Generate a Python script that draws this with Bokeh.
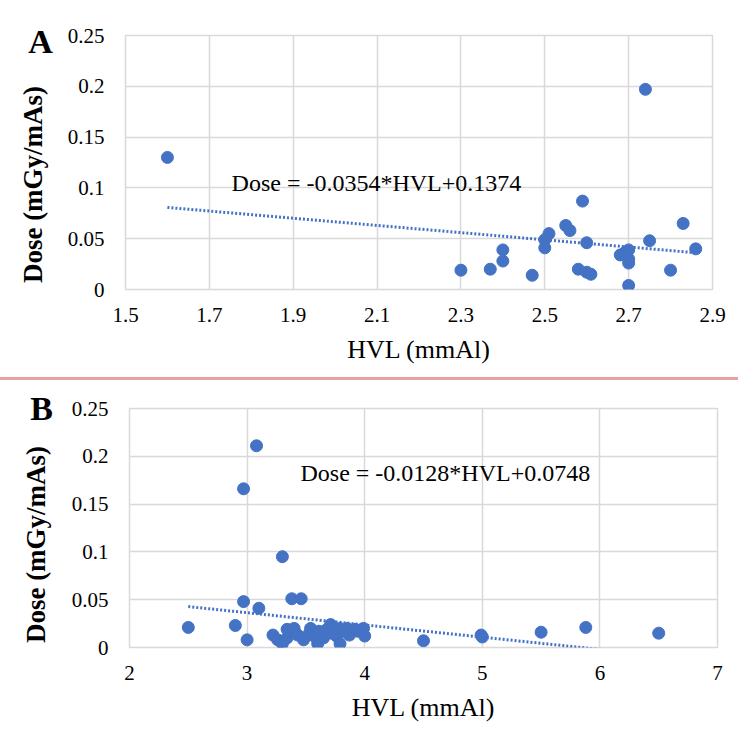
from bokeh.plotting import figure
from bokeh.layouts import column, row
from bokeh.models import Range1d, FixedTicker, NumeralTickFormatter, Label
from bokeh.core.properties import value
from bokeh.embed import file_html
from bokeh.resources import INLINE

# ---------------- data ----------------
hvl_a = [1.60, 2.30, 2.37, 2.40, 2.40, 2.47, 2.50, 2.50, 2.51, 2.55, 2.56, 2.59,
         2.58, 2.60, 2.61, 2.60, 2.68, 2.69, 2.70, 2.70, 2.70, 2.70, 2.74, 2.75,
         2.80, 2.83, 2.86]
dose_a = [0.130, 0.019, 0.020, 0.039, 0.028, 0.014, 0.041, 0.049, 0.055, 0.063, 0.058, 0.087,
          0.020, 0.017, 0.015, 0.046, 0.034, 0.036, 0.039, 0.030, 0.026, 0.004, 0.197, 0.048,
          0.019, 0.065, 0.040]

hvl_b = [2.50, 2.90, 2.97, 2.97, 3.08, 3.10, 3.00, 3.30, 3.38, 3.46, 3.22, 3.26, 3.29, 3.30,
         3.34, 3.34, 3.39, 3.40, 3.43, 3.48, 3.53, 3.54, 3.57, 3.60, 3.61, 3.65, 3.68, 3.71,
         3.72, 3.74, 3.76, 3.79, 3.79, 3.82, 3.85, 3.87, 3.92, 3.94, 3.99, 4.00, 4.50, 5.00,
         4.99, 5.50, 5.88, 6.50]
dose_b = [0.021, 0.023, 0.048, 0.166, 0.211, 0.041, 0.008, 0.095, 0.051, 0.051, 0.013, 0.008,
          0.006, 0.004, 0.010, 0.019, 0.017, 0.020, 0.013, 0.008, 0.015, 0.020, 0.012, 0.004,
          0.017, 0.010, 0.019, 0.024, 0.015, 0.020, 0.012, 0.004, 0.020, 0.017, 0.020, 0.013,
          0.019, 0.017, 0.020, 0.012, 0.007, 0.011, 0.013, 0.016, 0.021, 0.015]

slope_a, intercept_a = -0.0354, 0.1374
slope_b, intercept_b = -0.0128, 0.0748
eq_a = "Dose = -0.0354*HVL+0.1374"
eq_b = "Dose = -0.0128*HVL+0.0748"
y_title = "Dose (mGy/mAs)"
x_title = "HVL (mmAl)"

xticks_a = [1.5, 1.7, 1.9, 2.1, 2.3, 2.5, 2.7, 2.9]
xticks_b = [2, 3, 4, 5, 6, 7]
yticks = [0, 0.05, 0.1, 0.15, 0.2, 0.25]

# ---------------- style ----------------
BLUE = "#4472C4"
GRID = "#d9d9d9"
FONT = "Liberation Serif"
SIDE_W = 56
MAIN_W = 682


def side_panel(height, letter, letter_pos, ylab_pos, styles):
    s = figure(width=SIDE_W, height=height, output_backend="svg", toolbar_location=None,
               x_range=Range1d(0, SIDE_W), y_range=Range1d(0, height),
               min_border=0, outline_line_color=None, styles=styles,
               frame_align=False)
    s.title.visible = False
    s.axis.visible = False
    s.grid.visible = False
    s.text(x=[letter_pos[0]], y=[height - letter_pos[1]], text=[letter], text_font=value(FONT),
           text_font_size="34px", text_font_style="bold", text_color="black",
           text_align="center", text_baseline="middle")
    s.text(x=[ylab_pos[0]], y=[height - ylab_pos[1]], text=[y_title], text_font=value(FONT),
           text_font_size="27px", text_font_style="bold", text_color="black",
           angle=1.5707963, text_align="center", text_baseline="middle")
    return s


def make_panel(xs, ys, slope, intercept, eq, xticks, xfmt, height, mb_left, mb_right,
               mb_top, mb_bottom, eq_pos, styles):
    p = figure(width=MAIN_W, height=height, output_backend="svg", toolbar_location=None,
               x_range=Range1d(xticks[0], xticks[-1]), y_range=Range1d(0, 0.25),
               min_border_left=mb_left, min_border_right=mb_right,
               min_border_top=mb_top, min_border_bottom=mb_bottom,
               outline_line_color=GRID, outline_line_width=1.5, styles=styles,
               frame_align=False)
    p.title.visible = False
    p.xaxis.ticker = FixedTicker(ticks=xticks)
    p.yaxis.ticker = FixedTicker(ticks=yticks)
    p.xaxis.formatter = NumeralTickFormatter(format=xfmt)
    p.yaxis.formatter = NumeralTickFormatter(format="0.[00]")
    for ax in (p.xaxis, p.yaxis):
        ax.axis_line_color = None
        ax.major_tick_line_color = None
        ax.minor_tick_line_color = None
        ax.major_label_text_font = FONT
        ax.major_label_text_font_size = "21px"
        ax.major_label_text_color = "black"
    p.xaxis.major_label_standoff = 12
    p.yaxis.major_label_standoff = 15
    p.xaxis.axis_label = x_title
    p.xaxis.axis_label_text_font = FONT
    p.xaxis.axis_label_text_font_style = "normal"
    p.xaxis.axis_label_text_font_size = "26px"
    p.xaxis.axis_label_text_color = "black"
    p.xaxis.axis_label_standoff = 10
    p.xgrid.grid_line_color = GRID
    p.ygrid.grid_line_color = GRID
    p.xgrid.grid_line_width = 1.5
    p.ygrid.grid_line_width = 1.5

    x0, x1 = min(xs), max(xs)
    p.line([x0, x1], [slope * x0 + intercept, slope * x1 + intercept],
           line_color=BLUE, line_width=3, line_dash="2 2")
    p.scatter(xs, ys, size=12, fill_color=BLUE, line_color=BLUE)

    p.add_layout(Label(x=eq_pos[0], y=eq_pos[1], text=eq, text_font=FONT,
                       text_font_size="24px", text_color="black", text_baseline="middle"))
    return p


RED = {"border-bottom": "3px solid #e6a1a4"}
sa = side_panel(380, "A", (40, 41), (32, 184), RED)
pa = make_panel(hvl_a, dose_a, slope_a, intercept_a, eq_a, xticks_a, "0.0", 380,
                69, 26, 35, 91, (1.753, 0.105), RED)
sb = side_panel(350, "B", (41, 28), (35, 164), {})
pb = make_panel(hvl_b, dose_b, slope_b, intercept_b, eq_b, xticks_b, "0", 350,
                73, 21, 28, 83, (3.454, 0.183), {})

layout = column(row(sa, pa), row(sb, pb))
open("out.html", "w").write(file_html(layout, INLINE))
